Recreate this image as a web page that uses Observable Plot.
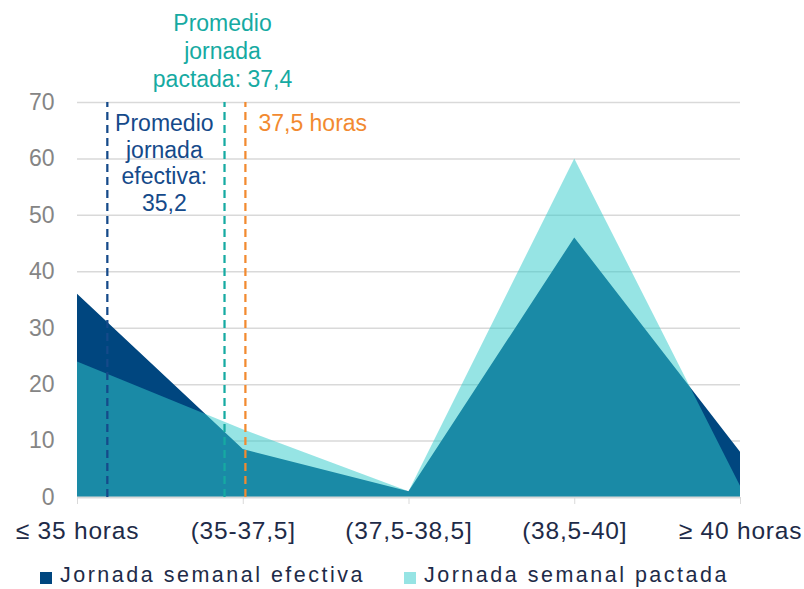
<!DOCTYPE html>
<html>
<head>
<meta charset="utf-8">
<script src="https://cdn.jsdelivr.net/npm/d3@7"></script>
<script src="https://cdn.jsdelivr.net/npm/@observablehq/plot@0.6"></script>
<style>
  body { margin: 0; background: #fff; font-family: "Liberation Sans", Arial, sans-serif; }
  #chart svg { display: block; font-family: "Liberation Sans", Arial, sans-serif; }
  #chart g[aria-label="x-axis tick label"] { letter-spacing: 0.8px; }
  #legend { position: relative; width: 804px; height: 29px; color: #1e2b48; font-size: 21.5px; line-height: 21px; }
  #legend .sw { position: absolute; top: 12px; width: 12px; height: 12px; }
  #legend .lb { position: absolute; top: 5px; letter-spacing: 2.5px; white-space: nowrap; }
</style>
</head>
<body>
<div id="chart"></div>
<div id="legend"></div>
<script>
// Distribution of weekly working hours (% of workers) by band
const categories = ["≤ 35 horas", "(35-37,5]", "(37,5-38,5]", "(38,5-40]", "≥ 40 horas"];
const efectiva = [36, 8.5, 1, 46, 8];   // Jornada semanal efectiva
const pactada  = [24, 12, 1, 60, 2];    // Jornada semanal pactada
const yTicks = [0, 10, 20, 30, 40, 50, 60, 70];

// Reference lines, placed along the band axis (band index units)
const refNames  = ["efectiva", "pactada", "legal"];
const refAt     = [0.18, 0.887, 1.013];
const refLabels = ["Promedio\njornada\nefectiva:\n35,2", "Promedio\njornada\npactada: 37,4", "37,5 horas"];

const navy = "#00467f";
const cyan = "rgb(50,202,202)";
const cyanOpacity = 0.515;
const refColors = ["#154a8a", "#16aaa2", "#f28a30"];

const idx = categories.map((_, i) => i);
const refs = refNames.map((name, i) => ({name, at: refAt[i], label: refLabels[i], color: refColors[i]}));

const chart = Plot.plot({
  width: 804,
  height: 560,
  marginLeft: 77,
  marginRight: 64,
  marginTop: 102,
  marginBottom: 63,
  x: {domain: [0, categories.length - 1], label: null},
  y: {domain: [0, 70], label: null},
  marks: [
    Plot.ruleY(yTicks.filter(d => d > 0), {stroke: "#d9d9d9", strokeWidth: 1.5}),
    Plot.areaY(idx, {x: i => i, y: i => efectiva[i], fill: navy}),
    Plot.areaY(idx, {x: i => i, y: i => pactada[i], fill: cyan, fillOpacity: cyanOpacity}),
    Plot.ruleY([0], {stroke: "#d9d9d9", strokeWidth: 2}),
    Plot.axisY(yTicks, {tickSize: 0, tickPadding: 23, fontSize: 23, fill: "#858585", stroke: null, label: null}),
    Plot.axisX(idx, {
      tickSize: 7, tickPadding: 17, fontSize: 24.5, label: null,
      tickFormat: i => categories[i],
      stroke: "#d9d9d9", fill: "#1e2b48"
    }),
    Plot.ruleX(refs, {x: "at", y1: 0, y2: 70, stroke: "color", strokeWidth: 2.25, strokeDasharray: "8,5"}),
    // effective-average label, centred between its line and the agreed-average line
    Plot.text(refs.filter(d => d.name === "efectiva"), {
      x: "at", y: 70, text: "label", fill: "color", fontSize: 23, lineHeight: 1.17,
      textAnchor: "middle", lineAnchor: "top", dx: 57, dy: 9
    }),
    // agreed-average label, above the frame
    Plot.text(refs.filter(d => d.name === "pactada"), {
      x: "at", y: 70, text: "label", fill: "color", fontSize: 23, lineHeight: 1.2,
      textAnchor: "middle", lineAnchor: "bottom", dx: -2, dy: -16
    }),
    // legal-reference label
    Plot.text(refs.filter(d => d.name === "legal"), {
      x: "at", y: 70, text: "label", fill: "color", fontSize: 23,
      textAnchor: "start", lineAnchor: "top", dx: 13, dy: 12
    })
  ]
});
document.getElementById("chart").appendChild(chart);

// Legend below the chart
const legendItems = [
  {name: "Jornada semanal efectiva", color: navy, opacity: 1, left: 40},
  {name: "Jornada semanal pactada", color: cyan, opacity: cyanOpacity, left: 404}
];
const legend = document.getElementById("legend");
for (const item of legendItems) {
  const sw = document.createElement("div");
  sw.className = "sw";
  sw.style.left = item.left + "px";
  sw.style.background = item.color;
  sw.style.opacity = item.opacity;
  legend.appendChild(sw);
  const lb = document.createElement("div");
  lb.className = "lb";
  lb.style.left = (item.left + 20) + "px";
  lb.textContent = item.name;
  legend.appendChild(lb);
}
</script>
</body>
</html>
